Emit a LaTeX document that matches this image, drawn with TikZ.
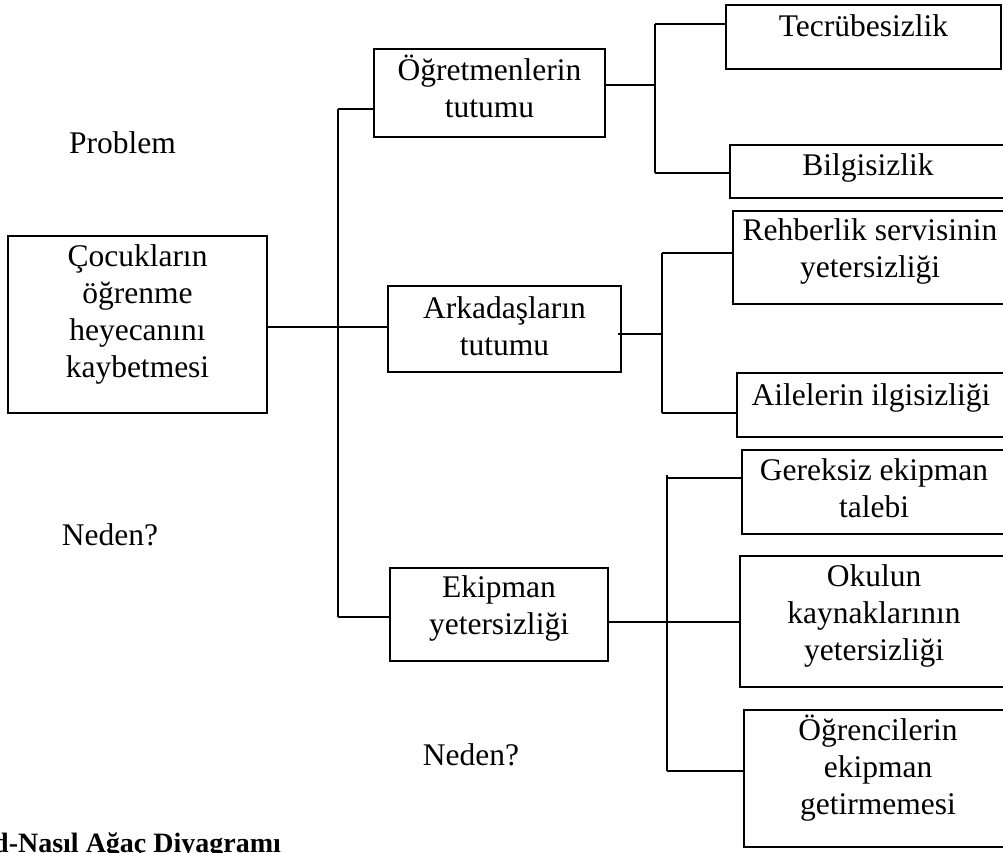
\documentclass[tikz,border=0pt]{standalone}
\usepackage{fontspec}
\setmainfont{Liberation Serif}
\begin{document}
\begin{tikzpicture}[x=1pt,y=-1pt,
  box/.style={draw,line width=1.8pt,inner sep=0pt,outer sep=0pt,rectangle},
  lbl/.style={font=\fontsize{31.5}{37}\selectfont,align=center,anchor=base,inner sep=0pt},
  link/.style={line width=1.8pt}]
\useasboundingbox (0,0) rectangle (1003,852);

% boxes
\node[box,minimum width=259pt,minimum height=177pt] (root)  at (137.5,324.5) {};
\node[box,minimum width=231pt,minimum height=88pt]  (ogret) at (489.5,93) {};
\node[box,minimum width=233pt,minimum height=86pt]  (arka)  at (504.5,329) {};
\node[box,minimum width=218pt,minimum height=93pt]  (ekip)  at (499,614.5) {};
\node[box,minimum width=275pt,minimum height=64pt]  (tecr)  at (863.5,37) {};
\node[box,minimum width=278pt,minimum height=53pt]  (bilg)  at (869,171.5) {};
\node[box,minimum width=275pt,minimum height=93pt]  (rehb)  at (870.5,257.5) {};
\node[box,minimum width=271pt,minimum height=64pt]  (aile)  at (872.5,405) {};
\node[box,minimum width=266pt,minimum height=84pt]  (gere)  at (875,492) {};
\node[box,minimum width=268pt,minimum height=131pt] (okul)  at (874,621.5) {};
\node[box,minimum width=266pt,minimum height=137pt] (ogre)  at (877,778.5) {};

% box texts (anchored at the baseline of the last line)
\node[lbl] (rootT)  at (137.5,377) {Çocukların\\öğrenme\\heyecanını\\kaybetmesi};
\node[lbl] (ogretT) at (489.5,117) {Öğretmenlerin\\tutumu};
\node[lbl] (arkaT)  at (504.5,355) {Arkadaşların\\tutumu};
\node[lbl] (ekipT)  at (499,634)   {Ekipman\\yetersizliği};
\node[lbl] (tecrT)  at (863.5,36)  {Tecrübesizlik};
\node[lbl] (bilgT)  at (868,175)   {Bilgisizlik};
\node[lbl] (rehbT)  at (870,277)   {Rehberlik servisinin\\yetersizliği};
\node[lbl] (aileT)  at (871,405)   {Ailelerin ilgisizliği};
\node[lbl] (gereT)  at (874,517)   {Gereksiz ekipman\\talebi};
\node[lbl] (okulT)  at (874,660)   {Okulun\\kaynaklarının\\yetersizliği};
\node[lbl] (ogreT)  at (878,814)   {Öğrencilerin\\ekipman\\getirmemesi};

% free labels
\node[lbl] (problem) at (122.5,153) {Problem};
\node[lbl] (neden1)  at (110,545)   {Neden?};
\node[lbl] (neden2)  at (471,765)   {Neden?};
\node[font=\fontsize{28}{33}\selectfont\bfseries,anchor=base west,inner sep=0pt] (title) at (-7,852) {d-Nasıl Ağaç Diyagramı};

% junction points
\coordinate (mTop) at (338,109);
\coordinate (mBot) at (338,617);
\coordinate (mRoot) at (338,327);
\coordinate (oJ)  at (655,85);
\coordinate (oTop) at (655,24);
\coordinate (oBot) at (655,173);
\coordinate (aJ)  at (662,334);
\coordinate (aTop) at (662,253);
\coordinate (aBot) at (662,413);
\coordinate (eJ)  at (667,622);
\coordinate (eTop) at (667,475);
\coordinate (eG)  at (667,478);
\coordinate (eBot) at (667,771);

% first level
\draw[link] (mTop) -- (mBot);
\draw[link] (root.east |- mRoot) -- (arka.west |- mRoot);
\draw[link] (mTop) -- (mTop -| ogret.west);
\draw[link] (mBot) -- (mBot -| ekip.west);

% second level
\draw[link] (ogret.east |- oJ) -- (oJ);
\draw[link] (oTop) -- (oBot);
\draw[link] (oTop) -- (oTop -| tecr.west);
\draw[link] (oBot) -- (oBot -| bilg.west);

\draw[link] (arka.east |- aJ) ++(-3,0) -- (aJ);
\draw[link] (aTop) -- (aBot);
\draw[link] (aTop) -- (aTop -| rehb.west);
\draw[link] (aBot) -- (aBot -| aile.west);

\draw[link] (ekip.east |- eJ) -- (okul.west |- eJ);
\draw[link] (eTop) -- (eBot);
\draw[link] (eG) -- (eG -| gere.west);
\draw[link] (eBot) -- (eBot -| ogre.west);
\end{tikzpicture}
\end{document}
